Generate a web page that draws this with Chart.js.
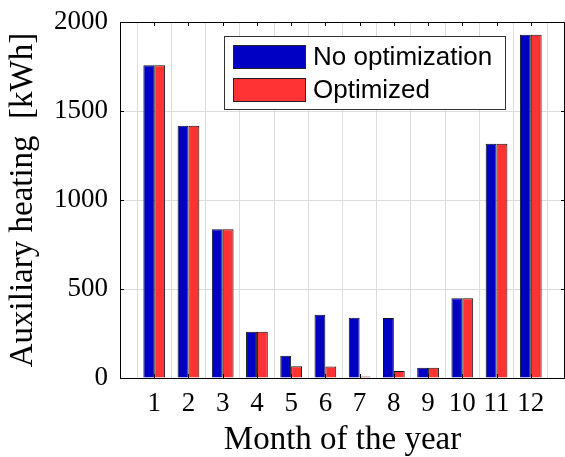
<!DOCTYPE html>
<html>
<head>
<meta charset="utf-8">
<script src="https://cdn.jsdelivr.net/npm/chart.js@4"></script>
<style>
    html, body { margin: 0; padding: 0; background: #fff; }
    #wrap { width: 565px; height: 457px; position: relative; }
</style>
</head>
<body>
<div id="wrap"><canvas id="heatingChart"></canvas></div>
<script>
// Chart data
const months = ["1", "2", "3", "4", "5", "6", "7", "8", "9", "10", "11", "12"];
const noOptimization = [1757, 1417, 836, 260, 125, 356, 339, 337, 58, 448, 1316, 1928];
const optimized = [1757, 1417, 836, 260, 66, 64, 8, 39, 58, 448, 1316, 1928];
const seriesNames = ["No optimization", "Optimized"];
const yTicks = [0, 500, 1000, 1500, 2000];

// empty slot at each end so the axis runs from 0 to 13
const labels = ["", ...months, ""];
const pad = (arr) => [null, ...arr, null];

const serif = "'Liberation Serif', 'Times New Roman', serif";

// black box with inward ticks, like the original figure
const framePlugin = {
    id: "frame",
    afterDatasetsDraw(chart) {
        const { ctx, chartArea: a, scales } = chart;
        const tick = 4;
        ctx.save();
        ctx.strokeStyle = "#000";
        ctx.lineWidth = 1;
        ctx.beginPath();
        scales.y.ticks.forEach((t) => {
            const y = Math.round(scales.y.getPixelForValue(t.value)) + 0.5;
            ctx.moveTo(a.left, y); ctx.lineTo(a.left + tick, y);
            ctx.moveTo(a.right, y); ctx.lineTo(a.right - tick, y);
        });
        months.forEach((m, i) => {
            const x = Math.round(scales.x.getPixelForValue(i + 1)) + 0.5;
            ctx.moveTo(x, a.top); ctx.lineTo(x, a.top + tick);
            ctx.moveTo(x, a.bottom); ctx.lineTo(x, a.bottom - tick);
        });
        ctx.stroke();
        ctx.strokeRect(Math.round(a.left) + 0.5, Math.round(a.top) + 0.5,
            Math.round(a.right - a.left) - 1, Math.round(a.bottom - a.top));
        ctx.restore();
    }
};

// boxed legend in the top right corner
const legendPlugin = {
    id: "boxLegend",
    afterDraw(chart) {
        const { ctx } = chart;
        const box = { x: 224.5, y: 36.5, w: 281, h: 73 };
        ctx.save();
        ctx.fillStyle = "#fff";
        ctx.fillRect(box.x, box.y, box.w, box.h);
        ctx.strokeStyle = "#333";
        ctx.lineWidth = 1;
        ctx.strokeRect(box.x, box.y, box.w, box.h);
        ctx.font = "26px 'Liberation Sans', Arial, sans-serif";
        ctx.textBaseline = "middle";
        chart.data.datasets.forEach((ds, i) => {
            const top = 45 + i * 33;
            ctx.fillStyle = ds.backgroundColor;
            ctx.fillRect(233, top, 73, 24);
            ctx.strokeStyle = "#222";
            ctx.strokeRect(233.5, top + 0.5, 72, 23);
            ctx.fillStyle = "#000";
            ctx.fillText(ds.label, 313, top + 13);
        });
        ctx.restore();
    }
};

new Chart(document.getElementById("heatingChart"), {
    type: "bar",
    data: {
        labels: labels,
        datasets: [
            {
                label: seriesNames[0],
                data: pad(noOptimization),
                backgroundColor: "#0000c4",
                borderColor: "#111",
                borderWidth: 1
            },
            {
                label: seriesNames[1],
                data: pad(optimized),
                backgroundColor: "#ff3333",
                borderColor: "#111",
                borderWidth: 1
            }
        ]
    },
    options: {
        responsive: true,
        maintainAspectRatio: false,
        animation: false,
        layout: { padding: { top: 22, right: 0, left: 0, bottom: 0 } },
        datasets: {
            bar: { categoryPercentage: 0.635, barPercentage: 1.0 }
        },
        plugins: {
            legend: { display: false },
            tooltip: { enabled: false }
        },
        scales: {
            x: {
                offset: false,
                grid: { color: "#dcdcdc", drawTicks: false },
                border: { display: false },
                ticks: {
                    autoSkip: false,
                    maxRotation: 0,
                    padding: 10,
                    color: "#000",
                    font: { family: serif, size: 27 }
                },
                title: {
                    display: true,
                    text: "Month of the year",
                    color: "#000",
                    font: { family: serif, size: 33, lineHeight: 1 },
                    padding: { top: 0, bottom: 0 }
                },
                afterFit(scale) {
                    scale.height = 79;
                    scale.paddingLeft = 0;
                    scale.paddingRight = 0;
                }
            },
            y: {
                min: 0,
                max: 2000,
                afterBuildTicks(scale) {
                    scale.ticks = yTicks.map((v) => ({ value: v }));
                },
                grid: { color: "#dcdcdc", drawTicks: false },
                border: { display: false },
                ticks: {
                    padding: 12,
                    color: "#000",
                    font: { family: serif, size: 27 },
                    callback: (v) => String(v)
                },
                title: {
                    display: true,
                    text: "Auxiliary heating  [kWh]",
                    color: "#000",
                    font: { family: serif, size: 33, lineHeight: 1.2 },
                    padding: { top: 4, bottom: 0 }
                },
                afterFit(scale) {
                    scale.width = 120;
                    scale.paddingTop = 0;
                    scale.paddingBottom = 0;
                }
            }
        }
    },
    plugins: [framePlugin, legendPlugin]
});
</script>
</body>
</html>
